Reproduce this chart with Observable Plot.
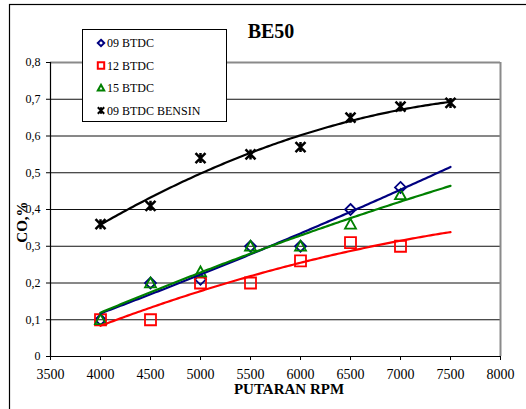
<!DOCTYPE html>
<html>
<head>
<meta charset="utf-8">
<script src="https://cdn.jsdelivr.net/npm/d3@7"></script>
<script src="https://cdn.jsdelivr.net/npm/@observablehq/plot@0.6"></script>
<style>
  html, body { margin: 0; padding: 0; background: white; }
  svg { display: block; }
</style>
</head>
<body>
<div id="chart"></div>
<script>
// ---- data ----
const rpm = [4000, 4500, 5000, 5500, 6000, 6500, 7000];
const rpmBensin = [4000, 4500, 5000, 5500, 6000, 6500, 7000, 7500];
const co09 = [0.10, 0.20, 0.21, 0.30, 0.30, 0.40, 0.46];
const co12 = [0.10, 0.10, 0.20, 0.20, 0.26, 0.31, 0.30];
const co15 = [0.10, 0.20, 0.23, 0.30, 0.30, 0.36, 0.44];
const coBensin = [0.36, 0.41, 0.54, 0.55, 0.57, 0.65, 0.68, 0.69];
const seriesNames = ["09 BTDC", "12 BTDC", "15 BTDC", "09 BTDC BENSIN"];
const seriesColors = ["#000080", "#FF0000", "#008000", "#000000"];
const trendRange = [4000, 7500];
const xTicks = [3500, 4000, 4500, 5000, 5500, 6000, 6500, 7000, 7500, 8000];
const yTicks = [0, 0.1, 0.2, 0.3, 0.4, 0.5, 0.6, 0.7, 0.8];
const titleText = "BE50";
const xLabel = "PUTARAN RPM";
const yLabel = "CO,%";

// ---- custom symbols ----
const sym = (fn) => ({ draw(ctx, size) { const r = Math.sqrt(size / Math.PI); fn(ctx, r); } });
const diamond = sym((c, r) => { c.moveTo(0, -r); c.lineTo(r, 0); c.lineTo(0, r); c.lineTo(-r, 0); c.closePath(); });
const square = sym((c, r) => { c.moveTo(-r, -r); c.lineTo(r, -r); c.lineTo(r, r); c.lineTo(-r, r); c.closePath(); });
const triangle = sym((c, r) => { c.moveTo(0, -r); c.lineTo(r, r * 0.8); c.lineTo(-r, r * 0.8); c.closePath(); });
const star = sym((c, r) => { c.moveTo(-r, -r); c.lineTo(r, r); c.moveTo(r, -r); c.lineTo(-r, r); c.moveTo(0, -r); c.lineTo(0, r); });
const symbols = [diamond, square, triangle, star];

// ---- build tables ----
const series = [
  {xs: rpm, ys: co09},
  {xs: rpm, ys: co12},
  {xs: rpm, ys: co15},
  {xs: rpmBensin, ys: coBensin}
].map((s, i) => ({...s, name: seriesNames[i], color: seriesColors[i], symbol: symbols[i]}));

// quadratic least-squares trendline (like Excel poly-2 trendline)
function quadFit(xs, ys) {
  const m = d3.mean(xs), k = 1000;
  const t = xs.map(x => (x - m) / k);
  let S = [0,0,0,0,0], T = [0,0,0];
  t.forEach((ti, j) => {
    for (let p = 0; p < 5; p++) S[p] += ti ** p;
    for (let p = 0; p < 3; p++) T[p] += ys[j] * ti ** p;
  });
  const A = [[S[0],S[1],S[2],T[0]],[S[1],S[2],S[3],T[1]],[S[2],S[3],S[4],T[2]]];
  for (let i = 0; i < 3; i++) {
    for (let r = i + 1; r < 3; r++) {
      const f = A[r][i] / A[i][i];
      for (let c = i; c < 4; c++) A[r][c] -= f * A[i][c];
    }
  }
  const b = [0,0,0];
  for (let i = 2; i >= 0; i--) {
    let s = A[i][3];
    for (let c = i + 1; c < 3; c++) s -= A[i][c] * b[c];
    b[i] = s / A[i][i];
  }
  return x => { const u = (x - m) / k; return b[0] + b[1] * u + b[2] * u * u; };
}

const trendMarks = series.map(s => {
  const f = quadFit(s.xs, s.ys);
  const pts = d3.range(trendRange[0], trendRange[1] + 1, 25).map(x => ({x, y: f(x)}));
  return Plot.line(pts, {x: "x", y: "y", stroke: s.color, strokeWidth: 2.2});
});
const dotMarks = series.map(s => Plot.dot(s.xs.map((x, j) => ({x, y: s.ys[j]})), {
  x: "x", y: "y", symbol: s.symbol, r: s.name === "09 BTDC BENSIN" ? 5 : 5.5,
  stroke: s.color, fill: "none", strokeWidth: s.name === "09 BTDC BENSIN" ? 2.5 : 1.8
}));

const fmtY = d => d === 0 ? "0" : d.toFixed(1).replace(".", ",");

const svg = Plot.plot({
  width: 526,
  height: 409,
  marginLeft: 50,
  marginRight: 26,
  marginTop: 62,
  marginBottom: 53,
  style: {fontFamily: "'Liberation Serif', 'Times New Roman', serif", background: "white", color: "black", overflow: "hidden"},
  x: {domain: [3500, 8000]},
  y: {domain: [0, 0.8]},
  marks: [
    Plot.ruleY(yTicks.filter(d => d > 0 && d < 0.8), {stroke: "#111", strokeWidth: 1}),
    Plot.ruleY([0.8], {stroke: "#8a8a8a", strokeWidth: 2}),
    Plot.ruleX([8000], {stroke: "#8a8a8a", strokeWidth: 2}),
    Plot.ruleX([3500], {stroke: "black", strokeWidth: 1.2}),
    Plot.ruleY([0], {stroke: "black", strokeWidth: 1.2}),
    Plot.axisX({ticks: xTicks, tickSize: 4, tickPadding: 9, fontSize: 14, tickFormat: d => String(d), label: null}),
    Plot.axisY({ticks: yTicks, tickSize: 4, tickPadding: 6, fontSize: 12, tickFormat: fmtY, label: null}),
    ...dotMarks,
    ...trendMarks
  ]
});

document.getElementById("chart").appendChild(svg);

// ---- decorations: outer border, title, axis labels, legend ----
const g = d3.select(svg);
g.append("rect").attr("x", 9.5).attr("y", 4.5).attr("width", 700).attr("height", 600)
  .attr("fill", "none").attr("stroke", "black").attr("stroke-width", 1.2);
g.append("text").attr("x", 271).attr("y", 38).attr("text-anchor", "middle")
  .attr("font-size", 20).attr("font-weight", "bold").attr("fill", "black").text(titleText);
g.append("text").attr("x", 289).attr("y", 394).attr("text-anchor", "middle")
  .attr("font-size", 15).attr("font-weight", "bold").attr("fill", "black").text(xLabel);
g.append("text").attr("transform", "translate(27,222) rotate(-90)").attr("text-anchor", "middle")
  .attr("font-size", 15).attr("font-weight", "bold").attr("fill", "black").text(yLabel);

const lg = g.append("g");
lg.append("rect").attr("x", 82.5).attr("y", 29.5).attr("width", 144).attr("height", 92)
  .attr("fill", "white").attr("stroke", "black").attr("stroke-width", 1);
series.forEach((s, i) => {
  const yy = 43 + i * 22.5;
  lg.append("path").attr("transform", `translate(101,${yy})`)
    .attr("d", d3.symbol(s.symbol, Math.PI * 3.2 * 3.2)())
    .attr("fill", "none").attr("stroke", s.color).attr("stroke-width", 2);
  lg.append("text").attr("x", 107).attr("y", yy + 4).attr("text-anchor", "start")
    .attr("font-size", 12).attr("fill", "black").text(s.name);
});
</script>
</body>
</html>
